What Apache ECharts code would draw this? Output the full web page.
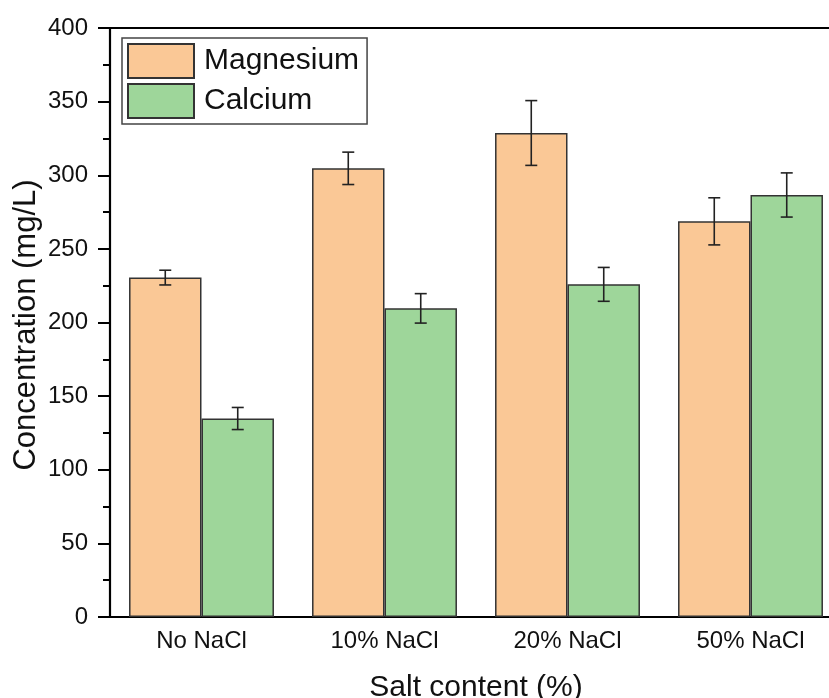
<!DOCTYPE html>
<html>
<head>
<meta charset="utf-8">
<script src="https://cdn.jsdelivr.net/npm/echarts@6/dist/echarts.min.js"></script>
<style>html,body{margin:0;padding:0;background:#fff}#c{width:829px;height:698px}</style>
</head>
<body>
<div id="c"></div>
<script>
const categories = ['No NaCl', '10% NaCl', '20% NaCl', '50% NaCl'];
const magnesium = [230.5, 304.7, 328.7, 268.7];
const magnesiumErr = [5, 11, 22, 16];
const calcium = [134.8, 209.6, 225.9, 286.6];
const calciumErr = [7.5, 10, 11.5, 15];

const CAT_GAP = 0.208;
const FONT = "'Liberation Sans', Arial, sans-serif";
const MG_COLOR = '#FAC896';
const CA_COLOR = '#9ED69A';

function errData(vals, errs) {
  return vals.map((v, i) => [i, v - errs[i], v + errs[i]]);
}
function errRender(side) {
  return function (params, api) {
    const band = api.size([1, 0])[0];
    const barW = band * (1 - CAT_GAP) / 2;
    const cx = api.coord([api.value(0), 0])[0] + side * barW / 2;
    const lo = api.coord([api.value(0), api.value(1)])[1];
    const hi = api.coord([api.value(0), api.value(2)])[1];
    const cap = 6;
    const style = { stroke: '#222', lineWidth: 1.6 };
    return {
      type: 'group',
      children: [
        { type: 'line', shape: { x1: cx, y1: lo, x2: cx, y2: hi }, style },
        { type: 'line', shape: { x1: cx - cap, y1: lo, x2: cx + cap, y2: lo }, style },
        { type: 'line', shape: { x1: cx - cap, y1: hi, x2: cx + cap, y2: hi }, style }
      ]
    };
  };
}

const chart = echarts.init(document.getElementById('c'));
chart.setOption({
  animation: false,
  backgroundColor: '#fff',
  grid: { left: 110, top: 28, right: -13, bottom: 81, containLabel: false, outerBoundsMode: 'none' },
  legend: {
    orient: 'vertical',
    left: 122, top: 38,
    padding: [5, 8, 5, 5],
    itemWidth: 66, itemHeight: 34, itemGap: 4,
    icon: 'rect',
    borderColor: '#444', borderWidth: 1.5,
    textStyle: { fontFamily: FONT, fontSize: 30, lineHeight: 34, color: '#111', padding: [0, 0, 0, 5] },
    data: ['Magnesium', 'Calcium']
  },
  xAxis: [{
    type: 'category',
    data: categories,
    axisLine: { lineStyle: { color: '#000', width: 2.2 } },
    axisTick: { show: false },
    axisLabel: { fontFamily: FONT, fontSize: 24, color: '#111', margin: 12 },
    name: 'Salt content (%)',
    nameLocation: 'middle',
    nameGap: 56,
    nameTextStyle: { fontFamily: FONT, fontSize: 30, color: '#111' }
  }, {
    type: 'category',
    data: categories,
    position: 'top',
    axisLine: { lineStyle: { color: '#000', width: 2.2 } },
    axisTick: { show: false },
    axisLabel: { show: false }
  }],
  yAxis: {
    type: 'value',
    min: 0, max: 400, interval: 50,
    axisLine: { show: true, lineStyle: { color: '#000', width: 2.2 } },
    axisTick: { show: true, inside: false, length: 12, lineStyle: { color: '#000', width: 2 } },
    minorTick: { show: true, splitNumber: 2, length: 7, lineStyle: { color: '#000', width: 2 } },
    splitLine: { show: false },
    axisLabel: { fontFamily: FONT, fontSize: 24, color: '#111', margin: 22 }
  },
  graphic: [{
    type: 'text',
    x: 26, y: 325,
    rotation: Math.PI / 2,
    style: {
      text: 'Concentration (mg/L)',
      font: '31px ' + FONT,
      fill: '#111',
      align: 'center',
      verticalAlign: 'middle'
    }
  }],
  series: [{
    name: 'Magnesium',
    type: 'bar',
    data: magnesium,
    barGap: '0%',
    barCategoryGap: (CAT_GAP * 100) + '%',
    itemStyle: { color: MG_COLOR, borderColor: '#333', borderWidth: 1.5 }
  }, {
    name: 'Calcium',
    type: 'bar',
    data: calcium,
    barGap: '0%',
    barCategoryGap: (CAT_GAP * 100) + '%',
    itemStyle: { color: CA_COLOR, borderColor: '#333', borderWidth: 1.5 }
  }, {
    type: 'custom',
    renderItem: errRender(-1),
    data: errData(magnesium, magnesiumErr),
    encode: { x: 0, y: [1, 2] },
    z: 10
  }, {
    type: 'custom',
    renderItem: errRender(1),
    data: errData(calcium, calciumErr),
    encode: { x: 0, y: [1, 2] },
    z: 10
  }]
});
</script>
</body>
</html>
